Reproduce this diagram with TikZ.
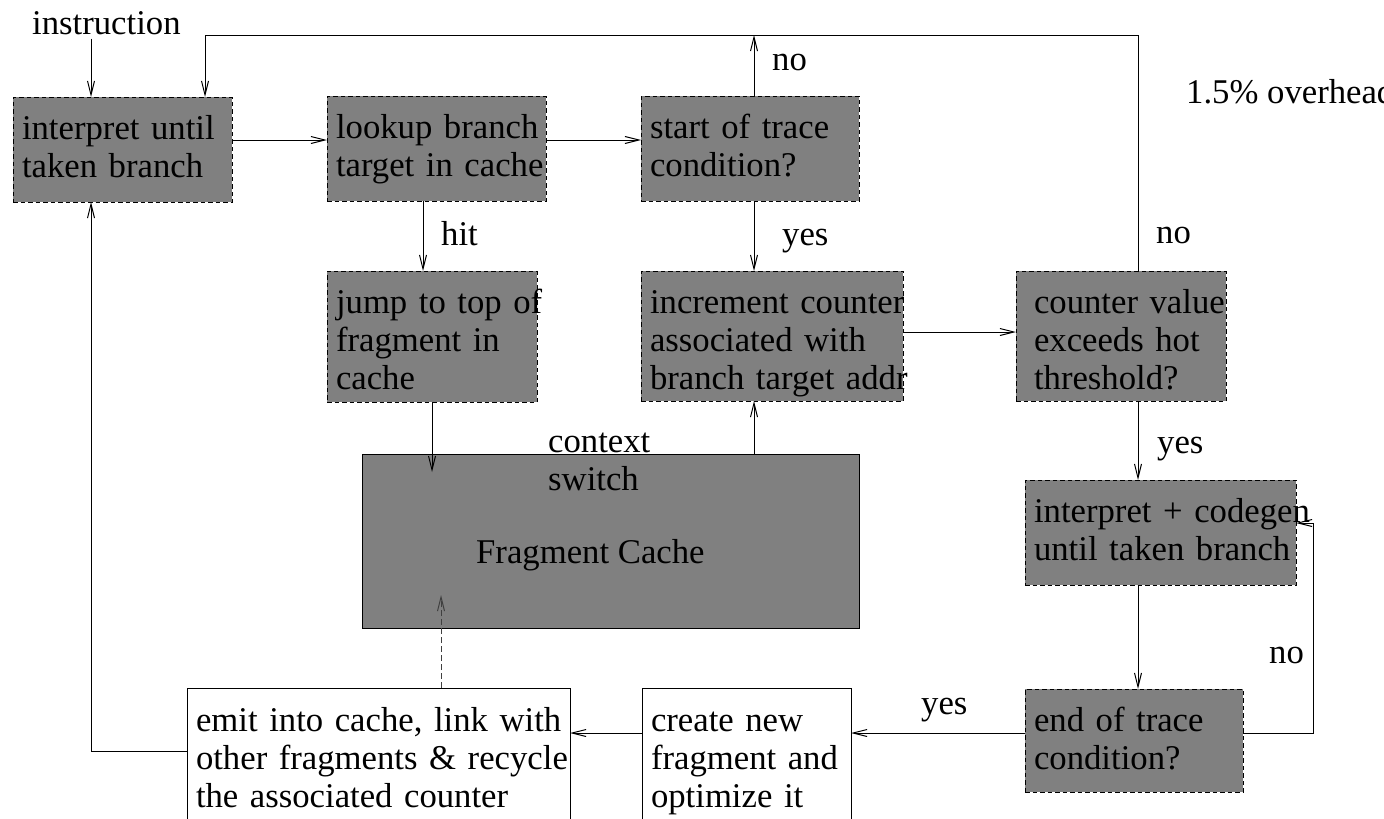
\documentclass[tikz,border=0pt]{standalone}
\usepackage{fontspec}
\setmainfont{Liberation Serif}
\usetikzlibrary{arrows.meta}
\begin{document}
\begin{tikzpicture}[x=1pt,y=-1pt,
  every node/.append style={font=\fontsize{34.7pt}{38pt}\selectfont},
  >={Straight Barb[length=14pt,width=7pt]},
  link/.style={draw=black, line width=1pt},
  flowbox/.style={draw=black, line width=0.9pt, dash pattern=on 4.5pt off 3pt,
    fill=black!50, anchor=north west, inner xsep=9pt, inner ysep=0pt,
    outer sep=0pt, align=left, text height=42pt},
  plainbox/.style={draw=black, line width=1pt, fill=white, anchor=north west,
    inner xsep=9pt, inner ysep=0pt, outer sep=0pt, align=left,
    text height=43pt, text depth=150pt},
  lbl/.style={anchor=base west, inner sep=0pt}]
\useasboundingbox (0,0) rectangle (1384,819);
\clip (0,0) rectangle (1384,819);

% ---- process boxes ----
\node[flowbox, text width=201pt, text depth=63pt] (interp) at (13,97)
  {\mbox{interpret until}\\\mbox{taken branch}};
\node[flowbox, text width=201pt, text depth=63pt] (lookup) at (327,96)
  {\mbox{lookup branch}\\\mbox{target in cache}};
\node[flowbox, text width=200pt, text depth=63pt] (start) at (641,96)
  {\mbox{start of trace}\\\mbox{condition?}};
\node[flowbox, text width=192pt, text depth=89pt] (jump) at (327,271)
  {\mbox{jump to top of}\\\mbox{fragment in}\\\mbox{cache}};
\node[flowbox, text width=244pt, text depth=88pt] (incr) at (641,271)
  {\mbox{increment counter}\\\mbox{associated with}\\\mbox{branch target addr}};
\node[flowbox, inner xsep=18pt, text width=174pt, text depth=88pt] (hot) at (1016,271)
  {\mbox{counter value}\\\mbox{exceeds hot}\\\mbox{threshold?}};
\node[flowbox, text width=253pt, text depth=63pt] (codegen) at (1025,480)
  {\mbox{interpret + codegen}\\\mbox{until taken branch}};
\node[flowbox, text width=200pt, text depth=61pt] (endtr) at (1025,689)
  {\mbox{end of trace}\\\mbox{condition?}};

% ---- fragment cache ----
\node[draw=black, line width=1pt, fill=black!50, anchor=north west,
  minimum width=497pt, minimum height=174pt, inner sep=0pt, outer sep=0pt]
  (cache) at (362,454) {};
\node[lbl] (cachename) at (476,563) {Fragment Cache};
\node[lbl, text width=120pt, align=left] (ctxsw) at (548,452)
  {context\\switch};

% ---- fragment creation boxes ----
\node[plainbox, text width=365pt] (emit) at (187,688)
  {\mbox{emit into cache, link with}\\\mbox{other fragments \& recycle}\\\mbox{the associated counter}};
\node[plainbox, text width=191pt] (create) at (642,688)
  {\mbox{create new}\\\mbox{fragment and}\\\mbox{optimize it}};

% ---- free texts ----
\node[lbl] (instr) at (32,34) {instruction};
\node[lbl] (overhead) at (1186,103) {1.5\% overhead};
\node[lbl] (lhit) at (441,245) {hit};
\node[lbl] (lyes1) at (782,245) {yes};
\node[lbl] (lno1) at (772,70) {no};
\node[lbl] (lno2) at (1156,243) {no};
\node[lbl] (lyes2) at (1157,453) {yes};
\node[lbl] (lno3) at (1269,663) {no};
\node[lbl] (lyes3) at (921,714) {yes};

% ---- routing points ----
\coordinate (topL) at (205,35);
\coordinate (topR) at (1138,35);
\coordinate (topM) at (754,35);
\coordinate (colHit) at (423,0);
\coordinate (rowA) at (0,140);
\coordinate (rowB) at (0,332);
\coordinate (tipA) at (432,472);
\coordinate (loopB) at (1313,733);
\coordinate (loopT) at (1313,523);
\coordinate (backB) at (91,751);
\coordinate (dtip) at (441,595);

% ---- connectors ----
\draw[link,->] (instr.south -| backB) ++(0,4) -- (interp.north -| backB);
\draw[link,->] (interp.east |- rowA) -- (lookup.west |- rowA);
\draw[link,->] (lookup.east |- rowA) -- (start.west |- rowA);
\draw[link,->] (start.north -| topM) -- (topM);
\draw[link,->] (hot.north -| topR) -- (topR) -- (topL) -- (interp.north -| topL);
\draw[link,->] (start.south -| topM) -- (incr.north -| topM);
\draw[link,->] (lookup.south -| colHit) -- (jump.north -| colHit);
\draw[link,->] (jump.south -| tipA) -- (tipA);
\draw[link,->] (cache.north -| topM) -- (incr.south -| topM);
\draw[link,->] (incr.east |- rowB) -- (hot.west |- rowB);
\draw[link,->] (hot.south -| topR) -- (codegen.north -| topR);
\draw[link,->] (codegen.south -| topR) -- (endtr.north -| topR);
\draw[link,->] (endtr.east |- loopB) -- (loopB) -- (loopT) -- (codegen.east |- loopT);
\draw[link,->] (endtr.west |- loopB) -- (create.east |- loopB);
\draw[link,->] (create.west |- loopB) -- (emit.east |- loopB);
\draw[link,->] (emit.west |- backB) -- (backB) -- (interp.south -| backB);
\draw[link,->, draw=black!75, dash pattern=on 6pt off 3pt] (emit.north -| dtip) -- (dtip);
\end{tikzpicture}
\end{document}
